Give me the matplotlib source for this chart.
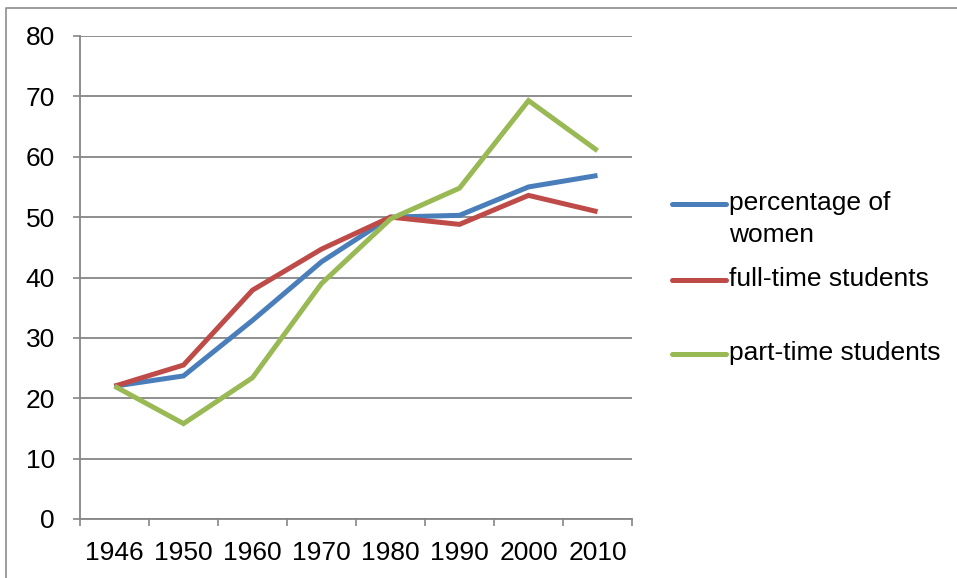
import numpy as np
import matplotlib
matplotlib.use("Agg")
import matplotlib.pyplot as plt
from matplotlib.lines import Line2D

plt.rcParams['font.family'] = ['Liberation Sans', 'DejaVu Sans']

# data
years = ['1946', '1950', '1960', '1970', '1980', '1990', '2000', '2010']
women = [22.0, 23.7, 32.9, 42.6, 50.0, 50.3, 55.0, 56.9]
full_time = [22.0, 25.5, 37.9, 44.7, 50.0, 48.8, 53.6, 50.9]
part_time = [22.0, 15.8, 23.4, 39.0, 49.7, 54.8, 69.3, 61.0]

labels = ['percentage of\nwomen', 'full-time students', 'part-time students']
colors = ['#4A7EBB', '#BE4B48', '#98B954']

W, H = 957, 578
fig = plt.figure(figsize=(W / 100, H / 100), dpi=100)
ax = fig.add_axes([80 / W, 1 - 519 / H, 552 / W, 483 / H])

x = np.arange(len(years))
for series, c in zip([women, full_time, part_time], colors):
    ax.plot(x, series, color=c, lw=3.6, solid_joinstyle='miter', solid_capstyle='butt')

ax.set_xlim(-0.5, len(years) - 0.5)
ax.set_ylim(0, 80)
ax.set_yticks(range(0, 81, 10))
ax.yaxis.grid(True, color='#868686', lw=1.3)
ax.set_axisbelow(True)

ax.set_xticks(x)
ax.set_xticklabels(years)
ax.set_xticks(np.arange(-0.5, len(years)), minor=True)
ax.tick_params(axis='x', which='major', length=0, pad=16, labelsize=19)
ax.tick_params(axis='x', which='minor', length=5, width=1.2, color='#868686')
ax.tick_params(axis='y', length=5, width=1.2, color='#868686', pad=13, labelsize=19)

for s in ['top', 'right']:
    ax.spines[s].set_visible(False)
for s in ['left', 'bottom']:
    ax.spines[s].set_color('#868686')
    ax.spines[s].set_linewidth(1.3)

# legend drawn by hand, Excel style
leg_y = [204, 280, 354]
for lab, c, yy in zip(labels, colors, leg_y):
    fy = 1 - yy / H
    fig.add_artist(Line2D([672 / W, 726 / W], [fy, fy], color=c, lw=3.6,
                          solid_capstyle='round'))
    fig.text(729 / W, fy + 13 / H, lab, fontsize=19, va='top', ha='left',
             linespacing=1.4)

# outer chart border
fig.add_artist(Line2D([6 / W, 6 / W, 1], [0, 1 - 8 / H, 1 - 8 / H],
                      color='#8c8c8c', lw=1.2))

fig.savefig('out.png', dpi=100)
